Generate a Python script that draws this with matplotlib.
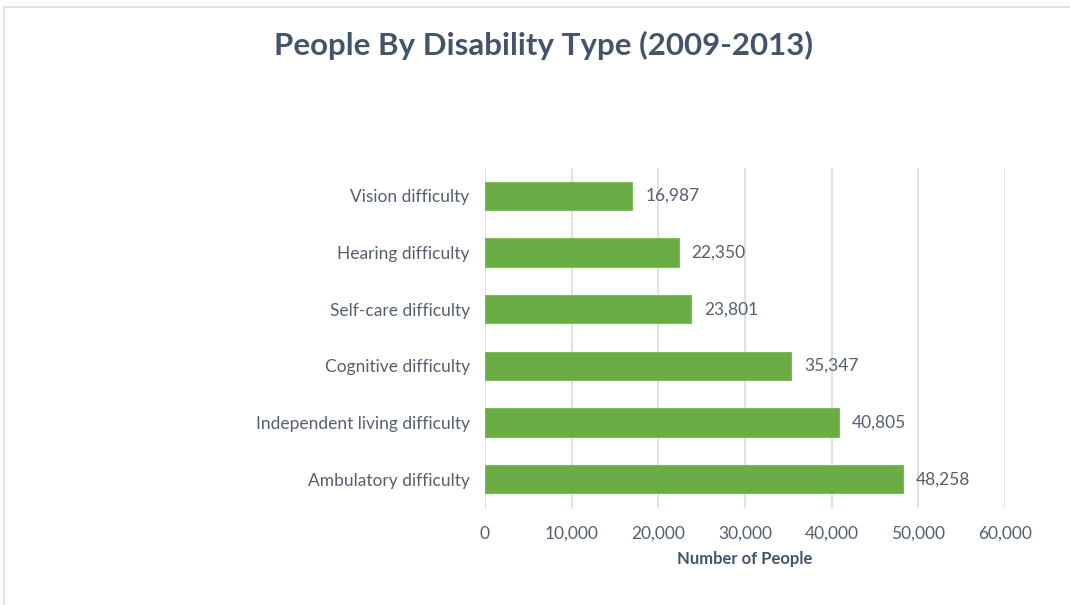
import matplotlib.pyplot as plt
from matplotlib.lines import Line2D

categories = ["Vision difficulty", "Hearing difficulty", "Self-care difficulty",
              "Cognitive difficulty", "Independent living difficulty", "Ambulatory difficulty"]
values = [16987, 22350, 23801, 35347, 40805, 48258]
xticks = [0, 10000, 20000, 30000, 40000, 50000, 60000]

txt = "#44546A"
lbl = "#55606F"

plt.rcParams['font.family'] = ['Lato', 'DejaVu Sans']

fig = plt.figure(figsize=(10.7, 6.05), dpi=100)
ax = fig.add_axes([485/1070, 1 - 507.5/605, 520/1070, 340/605])

y = list(range(len(categories)))
ax.barh(y, values, height=0.5, color="#6AAD44", edgecolor="#7DBA58", linewidth=0.8, zorder=3)
ax.set_ylim(len(categories) - 0.5, -0.5)
ax.set_xlim(0, 60000)

for i, v in enumerate(values):
    ax.text(v + 1500, i, f"{v:,}", va="center", ha="left", fontsize=12.5, color=lbl)

ax.set_yticks(y)
ax.set_yticklabels(categories, fontsize=12.5, color=lbl)
ax.set_xticks(xticks)
ax.set_xticklabels([f"{t:,}" for t in xticks], fontsize=12.5, color=lbl)
ax.tick_params(axis="both", length=0)
ax.tick_params(axis="y", pad=11)
ax.tick_params(axis="x", pad=13)
ax.grid(axis="x", color="#D9DCE3", linewidth=1.2, zorder=0)
for s in ax.spines.values():
    s.set_visible(False)

ax.set_xlabel("Number of People", fontsize=12, fontweight="bold", color=txt, labelpad=7)

fig.text(543/1070, 1 - 45/605, "People By Disability Type (2009-2013)", ha="center", va="center",
         fontsize=22.5, fontweight="bold", color=txt)

# chart frame
fig.add_artist(Line2D([4/1070, 1], [1 - 7/605, 1 - 7/605], color="#D9DCE3", linewidth=1.2))
fig.add_artist(Line2D([4/1070, 4/1070], [0, 1 - 7/605], color="#D9DCE3", linewidth=1.2))

fig.savefig("out.png", dpi=100)
